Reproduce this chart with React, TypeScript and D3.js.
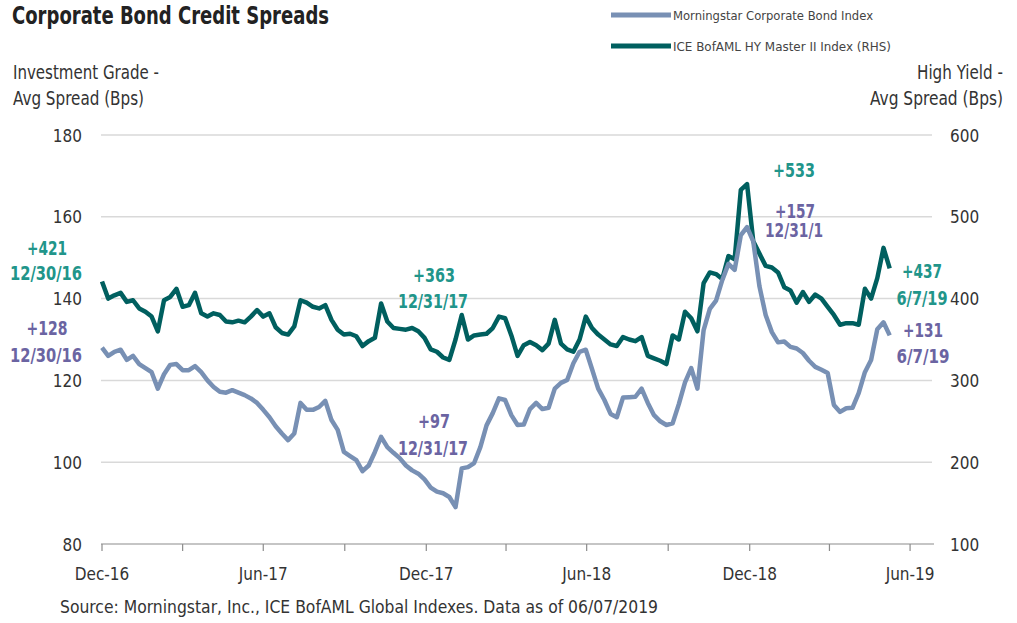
import React from 'react';
import * as d3 from 'd3';

// weekly readings, Fridays from 12/30/2016 to 6/7/2019
const firstDate = '2016-12-30';

const igSpread = [
  128, 126, 127, 127.5, 125, 126, 124, 123, 122, 118,
  121.5, 123.8, 124, 122.5, 122.5, 123.5, 122, 120, 118.4, 117.2,
  117, 117.6, 117, 116.4, 115.6, 114.5, 112.8, 111, 108.8, 107,
  105.4, 107, 114.5, 112.8, 112.8, 113.5, 115, 110.3, 107.9, 102.5,
  101.5, 100.5, 97.8, 99.2, 102.5, 106.2, 103.7, 102.3, 101, 99.2,
  98, 97.2, 95.8, 93.8, 92.8, 92.4, 91.5, 89, 98.5, 98.8,
  99.8, 103.7, 109, 112, 115.6, 115.2, 111.5, 109.1, 109.2, 113,
  114.5, 113, 113.3, 118, 119.4, 120.1, 124.2, 127, 127.5, 122.8,
  118, 115.2, 111.8, 111, 115.8, 115.9, 116, 118, 114.5, 111.5,
  110, 109.1, 109.5, 114.2, 119.5, 123, 118, 132.3, 137.5, 139.5,
  144.5, 148.5, 147, 155.5, 157.5, 154, 143, 136, 131.8, 129.3,
  129.5, 128.2, 127.8, 126.7, 124.8, 123.3, 122.6, 121.8, 114, 112.3,
  113.2, 113.3, 116.9, 122, 125, 132.5, 134.2, 131,
];

const hySpread = [
  421, 400, 404, 407, 396, 398, 388, 384, 378, 360,
  398, 402, 412, 390, 392, 407, 382, 378, 382, 380,
  372, 371, 373, 371, 378, 386, 378, 382, 365, 358,
  356, 366, 398, 395, 390, 388, 392, 374, 362, 356,
  357, 354, 342, 348, 352, 394, 372, 364, 363, 362,
  364, 360, 352, 338, 335, 328, 325, 350, 380, 350,
  355, 356, 357, 364, 378, 376, 355, 330, 343, 347,
  343, 337, 345, 374, 345, 338, 335, 350, 378, 364,
  356, 350, 344, 342, 353, 350, 348, 353, 330, 327,
  324, 320, 355, 350, 384, 376, 360, 419, 432, 430,
  424, 452, 448, 533, 540, 470, 455, 440, 438, 432,
  414, 410, 395, 408, 396, 405, 400, 390, 380, 368,
  370, 370, 368, 412, 400, 425, 462, 437,
];

const tickDates = [
  '2016-12-30', '2017-03-31', '2017-06-30', '2017-09-30', '2017-12-31', '2018-03-31',
  '2018-06-30', '2018-09-30', '2018-12-31', '2019-03-31', '2019-06-30',
];
const tickLabels = ['Dec-16', '', 'Jun-17', '', 'Dec-17', '', 'Jun-18', '', 'Dec-18', '', 'Jun-19'];

const leftTicks = [80, 100, 120, 140, 160, 180];
const rightTicks = [100, 200, 300, 400, 500, 600];

const seriesNames = ['Morningstar Corporate Bond Index', 'ICE BofAML HY Master II Index (RHS)'];

const calloutText = ['+421', '12/30/16', '+128', '12/30/16', '+363', '12/31/17', '+97', '12/31/17',
  '+533', '+157', '12/31/1', '+437', '6/7/19', '+131', '6/7/19'];
const calloutSeries = ['hy', 'hy', 'ig', 'ig', 'hy', 'hy', 'ig', 'ig', 'hy', 'ig', 'ig', 'hy', 'hy', 'ig', 'ig'];
// [center x, baseline y, width]
const calloutBox = [
  [47, 255, 40], [46, 280, 72], [47, 335, 41], [46, 362, 72],
  [434, 282, 42], [433, 308, 70], [434, 428, 32], [433, 455, 70],
  [794, 177, 42], [795, 218, 40], [794, 237, 58],
  [922, 278, 40], [922, 305, 51], [923, 337, 40], [923, 363, 53],
];

const IG_COLOR = '#7890b4';
const HY_COLOR = '#005f5f';
const IG_TEXT = '#6b64a2';
const HY_TEXT = '#21958a';
const TEXT = '#333';
const FONT = '"DejaVu Sans Condensed", "DejaVu Sans", sans-serif';

const parse = d3.timeParse('%Y-%m-%d');

// text squeezed to a set width, to stand in for the condensed face of the original
const Fit = ({ x, y, w, size, children, ...rest }: any) => (
  <text x={x} y={y} fontSize={size} textLength={w} lengthAdjust="spacingAndGlyphs" {...rest}>{children}</text>
);

export default function App() {
  const start = parse(firstDate) as Date;
  const dates = igSpread.map((_, i) => d3.timeDay.offset(start, 7 * i));

  const x = d3.scaleTime().domain([start, parse('2019-07-27') as Date]).range([102, 934]);
  const yLeft = d3.scaleLinear().domain([80, 180]).range([544, 135]);
  const yRight = d3.scaleLinear().domain([100, 600]).range([544, 135]);

  const igLine = d3.line<number>().x((d, i) => x(dates[i])).y(d => yLeft(d));
  const hyLine = d3.line<number>().x((d, i) => x(dates[i])).y(d => yRight(d));

  return (
    <svg width={1017} height={623} style={{ position: 'absolute', left: 0, top: 0, background: '#fff' }}
      fontFamily={FONT}>
      <Fit x={12} y={24} w={317} size={24} fontWeight="bold" fill="#222">Corporate Bond Credit Spreads</Fit>

      {/* legend */}
      {seriesNames.map((name, i) => (
        <g key={name} transform={`translate(611,${15 + i * 31})`}>
          <line x1={0} x2={60} y1={0} y2={0} stroke={i === 0 ? IG_COLOR : HY_COLOR} strokeWidth={5} />
          <Fit x={62} y={4.5} w={i === 0 ? 200 : 218} size={13} fill="#444">{name}</Fit>
        </g>
      ))}

      {/* axis titles */}
      <Fit x={13} y={79} w={146} size={19} fill={TEXT}>Investment Grade -</Fit>
      <Fit x={13} y={105} w={131} size={19} fill={TEXT}>Avg Spread (Bps)</Fit>
      <Fit x={917} y={79} w={86} size={19} fill={TEXT}>High Yield -</Fit>
      <Fit x={870} y={105} w={133} size={19} fill={TEXT}>Avg Spread (Bps)</Fit>

      {/* grid */}
      {leftTicks.slice(1).map(t => (
        <line key={t} x1={101} x2={932} y1={yLeft(t)} y2={yLeft(t)} stroke="#d9d9d9" strokeWidth={1.5} />
      ))}
      <line x1={101} x2={934} y1={544} y2={544} stroke="#8c8c8c" strokeWidth={1.2} />
      {tickDates.map((d, i) => (
        <g key={d} transform={`translate(${x(parse(d) as Date)},544)`}>
          <line y1={0} y2={7} stroke="#8c8c8c" strokeWidth={1.2} />
          {tickLabels[i] && (
            <text y={36} fontSize={17} fill={TEXT} textAnchor="middle">{tickLabels[i]}</text>
          )}
        </g>
      ))}

      {leftTicks.map(t => (
        <text key={t} x={82} y={yLeft(t) + 6.5} fontSize={17} fill={TEXT} textAnchor="end">{t}</text>
      ))}
      {rightTicks.map(t => (
        <text key={t} x={950} y={yRight(t) + 6.5} fontSize={17} fill={TEXT}>{t}</text>
      ))}

      {/* series */}
      <path d={hyLine(hySpread) || ''} fill="none" stroke={HY_COLOR} strokeWidth={4.5} strokeLinejoin="round" />
      <path d={igLine(igSpread) || ''} fill="none" stroke={IG_COLOR} strokeWidth={4.5} strokeLinejoin="round" />

      {/* callouts */}
      {calloutText.map((t, i) => {
        const [cx, cy, w] = calloutBox[i];
        return (
          <Fit key={i} x={cx - w / 2} y={cy} w={w} size={20} fontWeight="bold"
            fill={calloutSeries[i] === 'hy' ? HY_TEXT : IG_TEXT}>{t}</Fit>
        );
      })}

      <Fit x={60} y={613} w={598} size={18} fill={TEXT}>
        Source: Morningstar, Inc., ICE BofAML Global Indexes. Data as of 06/07/2019
      </Fit>
    </svg>
  );
}
